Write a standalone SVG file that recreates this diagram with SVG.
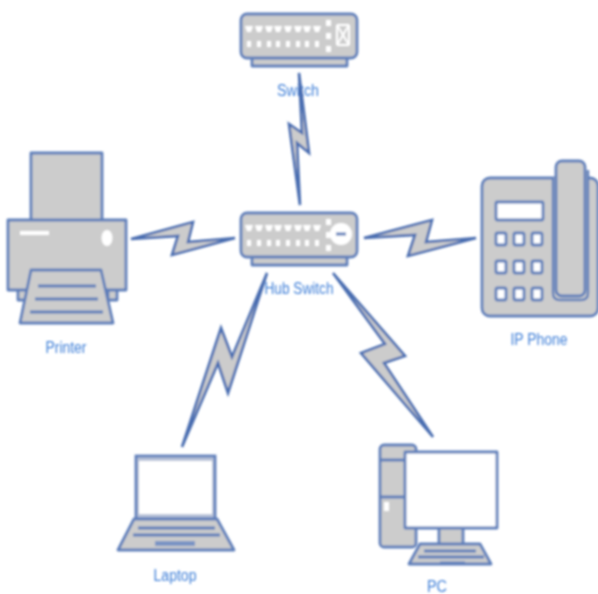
<svg xmlns="http://www.w3.org/2000/svg" xmlns:xlink="http://www.w3.org/1999/xlink" width="598" height="594" viewBox="0 0 598 594">
<style>
.s{fill:#ccc;stroke:#5f7fba;stroke-width:2.8;stroke-linejoin:round}
.w{fill:#fff;stroke:#5f7fba;stroke-width:2.8;stroke-linejoin:round}
.l{fill:none;stroke:#5f7fba;stroke-width:3.2}
.p{fill:#fff}
.t{font-family:"Liberation Sans",Arial,sans-serif;font-size:16px;fill:#3f7fd8;text-anchor:middle}
.b{fill:#ccc;stroke:#4a6db0;stroke-width:2.6;stroke-linejoin:miter}
</style>
<defs>
<filter id="soft" x="-5%" y="-5%" width="110%" height="110%"><feGaussianBlur stdDeviation="0.95"/></filter>
<g id="ports">
<path class="p" d="M-4-3h8l-2 6h-4z" transform="translate(249 0)"/><path class="p" d="M-4-3h8l-2 6h-4z" transform="translate(259 0)"/><path class="p" d="M-4-3h8l-2 6h-4z" transform="translate(269 0)"/><path class="p" d="M-4-3h8l-2 6h-4z" transform="translate(278 0)"/><path class="p" d="M-4-3h8l-2 6h-4z" transform="translate(288 0)"/><path class="p" d="M-4-3h8l-2 6h-4z" transform="translate(298 0)"/><path class="p" d="M-4-3h8l-2 6h-4z" transform="translate(307 0)"/><path class="p" d="M-4-3h8l-2 6h-4z" transform="translate(317 0)"/>
<g transform="translate(0 15)"><rect class="p" x="247" y="-3" width="4" height="6"/><rect class="p" x="257" y="-3" width="4" height="6"/><rect class="p" x="267" y="-3" width="4" height="6"/><rect class="p" x="276" y="-3" width="4" height="6"/><rect class="p" x="286" y="-3" width="4" height="6"/><rect class="p" x="296" y="-3" width="4" height="6"/><rect class="p" x="305" y="-3" width="4" height="6"/><rect class="p" x="315" y="-3" width="4" height="6"/></g>
<rect class="p" x="326" y="-9" width="5" height="6"/><rect class="p" x="326" y="4" width="5" height="6"/><rect class="p" x="326" y="17" width="5" height="6"/>
</g>
<g id="key"><rect class="w" x="-5" y="-6" width="10" height="12" rx="1.5"/></g>
</defs>
<g filter="url(#soft)">
<g id="node-switch">
<rect class="s" x="252" y="57" width="95" height="9"/>
<rect class="s" x="241" y="14" width="116" height="44" rx="6"/>
<use href="#ports" xlink:href="#ports" x="0" y="29"/>
<path d="M337 25l12 20M349 25l-12 20M337 25h12M337 45h12M337 25v20M349 25v20" fill="none" stroke="#fff" stroke-width="2"/>
<text class="t" x="298" y="96" textLength="42" lengthAdjust="spacingAndGlyphs">Switch</text>
</g>
<g id="node-hub">
<rect class="s" x="252" y="256" width="95" height="9"/>
<rect class="s" x="241" y="213" width="116" height="44" rx="6"/>
<use href="#ports" xlink:href="#ports" x="0" y="228"/>
<circle cx="341" cy="234" r="11" fill="#fff"/>
<path d="M336 234h10" stroke="#5f7fba" stroke-width="3"/>
<text class="t" x="299" y="294" textLength="69" lengthAdjust="spacingAndGlyphs">Hub Switch</text>
</g>
<g id="node-printer">
<rect class="s" x="31" y="153" width="71" height="68"/>
<rect class="s" x="18" y="288" width="9" height="12"/><rect class="s" x="108" y="288" width="9" height="12"/>
<rect class="s" x="8" y="220" width="118" height="70"/>
<rect class="p" x="20" y="231" width="29" height="4"/>
<ellipse class="p" cx="107" cy="238" rx="5.5" ry="8"/>
<path class="s" d="M31 270H101L113 323H20Z"/>
<path class="l" d="M38 286H96M35 299H98M30 312H103"/>
<text class="t" x="66" y="353" textLength="41" lengthAdjust="spacingAndGlyphs">Printer</text>
</g>
<g id="node-phone">
<rect class="s" x="482" y="178" width="116" height="138" rx="8"/>
<rect class="w" x="496" y="202" width="47" height="18" rx="1"/>
<path d="M553 178V293Q553 300 560 300H581Q588 300 588 293V170" fill="#ccc" stroke="#5f7fba" stroke-width="2.4"/>
<rect class="s" x="556" y="161" width="29" height="135" rx="6"/>
<use href="#key" xlink:href="#key" x="501" y="239"/><use href="#key" xlink:href="#key" x="519" y="239"/><use href="#key" xlink:href="#key" x="537" y="239"/>
<use href="#key" xlink:href="#key" x="501" y="267"/><use href="#key" xlink:href="#key" x="519" y="267"/><use href="#key" xlink:href="#key" x="537" y="267"/>
<use href="#key" xlink:href="#key" x="501" y="294"/><use href="#key" xlink:href="#key" x="519" y="294"/><use href="#key" xlink:href="#key" x="537" y="294"/>
<text class="t" x="539" y="345" textLength="57" lengthAdjust="spacingAndGlyphs">IP Phone</text>
</g>
<g id="node-laptop">
<rect x="136" y="456" width="79" height="63" fill="#b8c2d8" stroke="#5f7fba" stroke-width="2.8"/>
<rect class="p" x="139" y="461" width="73" height="53"/>
<path class="s" d="M134 519H217L234 550H118Z"/>
<path class="l" d="M138 528H215M133 535H220"/>
<rect x="155" y="541" width="40" height="5" fill="#7a94c4"/>
<text class="t" x="175" y="581" textLength="43" lengthAdjust="spacingAndGlyphs">Laptop</text>
</g>
<g id="node-pc">
<rect class="s" x="380" y="445" width="36" height="102" rx="4"/>
<path class="l" d="M380 460H416M380 497H416"/>
<rect class="p" x="384" y="502" width="5" height="9"/>
<rect class="s" x="439" y="526" width="24" height="20"/>
<rect class="w" x="405" y="452" width="92" height="76"/>
<path class="s" d="M420 544H480L491 564H409Z"/>
<path class="l" d="M424 551H476M418 557H484M440 563H465"/>
<text class="t" x="437" y="592" textLength="20" lengthAdjust="spacingAndGlyphs">PC</text>
</g>
<g id="connectors">
<polygon class="b" points="300,205 289,124 302,133 299,73 309,153 297,143"/>
<polygon class="b" points="131,239 193,222 188,242 235,238 172,255 178,236"/>
<polygon class="b" points="364,238 432,220 426,242 476,238 408,256 415,235"/>
<polygon class="b" points="182,447 221,328 232,357 267,273 228,393 218,363"/>
<polygon class="b" points="333,273 405,356 384,363 433,437 361,353 385,344"/>
</g>
</g>
</svg>
